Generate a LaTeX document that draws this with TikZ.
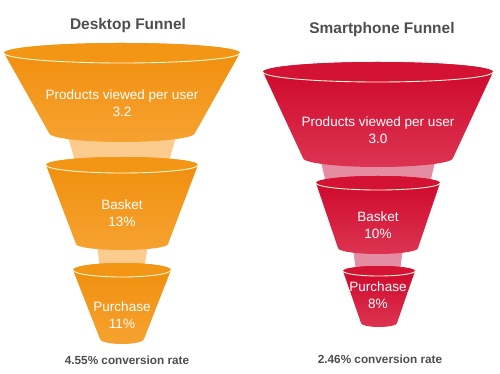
\documentclass[tikz,border=0pt]{standalone}
\usepackage{fontspec}
\setmainfont{Liberation Sans}

\definecolor{deskorange}{RGB}{240,142,12}
\definecolor{desklow}{RGB}{246,162,48}
\definecolor{desklidc}{RGB}{243,150,22}
\definecolor{deskneck}{RGB}{251,204,142}
\definecolor{phonered}{RGB}{206,6,42}
\definecolor{phonelow}{RGB}{220,52,82}
\definecolor{phonelidc}{RGB}{212,18,52}
\definecolor{phoneneck}{RGB}{230,140,162}
\definecolor{titlegray}{RGB}{78,78,78}

% one cone of a funnel: cx, y top, rx top, ry top, y bottom, rx bottom, ry bottom, colour set
\newcommand{\funnelcone}[8]{%
  \path[#8body] ({#1-#3},#2) -- ({#1-#6},#5)
    arc[start angle=180, end angle=0, x radius=#6, y radius=#7]
    -- ({#1+#3},#2) arc[start angle=0, end angle=-180, x radius=#3, y radius=#4] -- cycle;
  \fill[#8lid] (#1,#2) ellipse[x radius=#3, y radius=#4];
  \draw[rim] ({#1-#3},#2) arc[start angle=180, end angle=0, x radius=#3, y radius=#4];
}

\begin{document}
\begin{tikzpicture}[x=0.02cm, y=-0.02cm,
  deskbody/.style={top color=deskorange, bottom color=desklow},
  desklid/.style={fill=desklidc},
  phonebody/.style={top color=phonered, bottom color=phonelow},
  phonelid/.style={fill=phonelidc},
  rim/.style={draw=white!85!yellow, line width=0.5pt},
  title/.style={font=\bfseries\fontsize{8.8}{10}\selectfont, text=titlegray},
  rate/.style={font=\bfseries\fontsize{6.7}{8}\selectfont, text=titlegray},
  stage/.style={font=\fontsize{7.7}{10}\selectfont, text=white, align=center}
]
\useasboundingbox (0,0) rectangle (500,374);

% desktop funnel
\fill[deskneck] (67,133) -- (76,165) -- (168,165) -- (177,133) -- cycle;
\fill[deskneck] (97,244) -- (100,270) -- (144,270) -- (148,244) -- cycle;
\funnelcone{122}{53}{118}{10}{133}{73}{9}{desk}
\funnelcone{122}{165}{76}{8}{244}{46}{6}{desk}
\funnelcone{122}{270}{49}{7}{339}{22}{5}{desk}

\node (desktitle) [title] at (128,26) {Desktop Funnel};
\node (deskviews) [stage] at (122,103) {Products viewed per user\\3.2};
\node (deskbasket) [stage] at (122,213) {Basket\\13\%};
\node (deskbuy) [stage] at (122,315) {Purchase\\11\%};
\node (deskrate) [rate] at (127,360) {4.55\% conversion rate};

% smartphone funnel
\fill[phoneneck] (320,158) -- (326,183) -- (430,183) -- (436,158) -- cycle;
\fill[phoneneck] (353,248) -- (356,271) -- (400,271) -- (403,248) -- cycle;
\funnelcone{378}{72}{115}{10}{158}{75}{9}{phone}
\funnelcone{378}{183}{62}{7}{248}{40}{6}{phone}
\funnelcone{379}{271}{36}{5}{323}{18}{4}{phone}

\node (phonetitle) [title] at (382,30) {Smartphone Funnel};
\node (phoneviews) [stage] at (378,130) {Products viewed per user\\3.0};
\node (phonebasket) [stage] at (378,225) {Basket\\10\%};
\node (phonebuy) [stage] at (378,295) {Purchase\\8\%};
\node (phonerate) [rate] at (380,359) {2.46\% conversion rate};

\end{tikzpicture}
\end{document}
